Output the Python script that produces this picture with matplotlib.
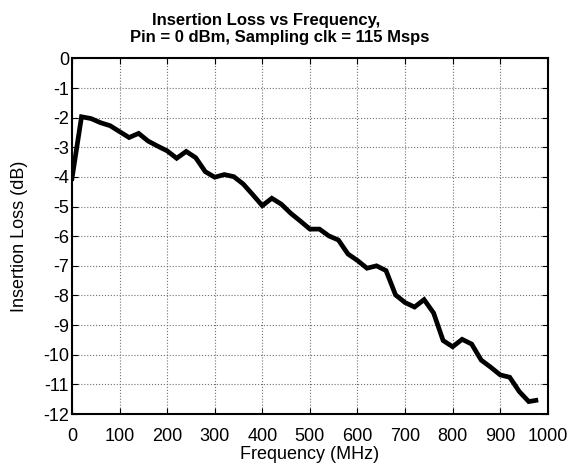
import numpy as np
import matplotlib
matplotlib.use("Agg")
import matplotlib.pyplot as plt

plt.rcParams["font.family"] = ["Liberation Sans", "DejaVu Sans"]
plt.rcParams["axes.unicode_minus"] = False

freq = [0, 20, 40, 60, 80, 100, 120, 140, 160, 180, 200, 220, 240, 260, 280,
        300, 320, 340, 360, 380, 400, 420, 440, 460, 480, 500, 520, 540, 560,
        580, 600, 620, 640, 660, 680, 700, 720, 740, 760, 780, 800, 820, 840,
        860, 880, 900, 920, 940, 960, 975]
loss = [-4.05, -1.97, -2.03, -2.17, -2.27, -2.47, -2.67, -2.53, -2.79, -2.96,
        -3.12, -3.37, -3.14, -3.35, -3.82, -4.01, -3.92, -3.99, -4.24, -4.6,
        -4.97, -4.72, -4.92, -5.23, -5.49, -5.76, -5.76, -5.99, -6.13, -6.6,
        -6.82, -7.08, -7.0, -7.16, -7.98, -8.24, -8.39, -8.14, -8.59, -9.52,
        -9.73, -9.48, -9.64, -10.18, -10.42, -10.68, -10.76, -11.24, -11.58, -11.54]

fig = plt.figure(figsize=(5.76, 4.71), dpi=100)
ax = fig.add_axes([0.125, 0.121, 0.826, 0.755])
ax.plot(freq, loss, color="black", linewidth=3.4, solid_joinstyle="miter")

ax.set_xlim(0, 1000)
ax.set_ylim(-12, 0)
ax.set_xticks(np.arange(0, 1001, 100))
ax.set_yticks(np.arange(-12, 1, 1))
ax.grid(True, color="#707070", linestyle=":", linewidth=0.8)
ax.tick_params(direction="in", top=True, right=True, labelsize=13, length=4, pad=2)
ax.tick_params(axis="x", pad=10)
for s in ax.spines.values():
    s.set_linewidth(1.5)

ax.set_xlabel("Frequency (MHz)", fontsize=13, labelpad=1)
ax.set_ylabel("Insertion Loss (dB)", fontsize=13, labelpad=11)
# two title lines, each centred where the original puts it
ax.text(0.409, 1.094, "Insertion Loss vs Frequency,", transform=ax.transAxes,
        ha="center", va="baseline", fontsize=12, fontweight="bold")
ax.text(0.437, 1.046, "Pin = 0 dBm, Sampling clk = 115 Msps", transform=ax.transAxes,
        ha="center", va="baseline", fontsize=12, fontweight="bold")

fig.savefig("out.png", dpi=100)
